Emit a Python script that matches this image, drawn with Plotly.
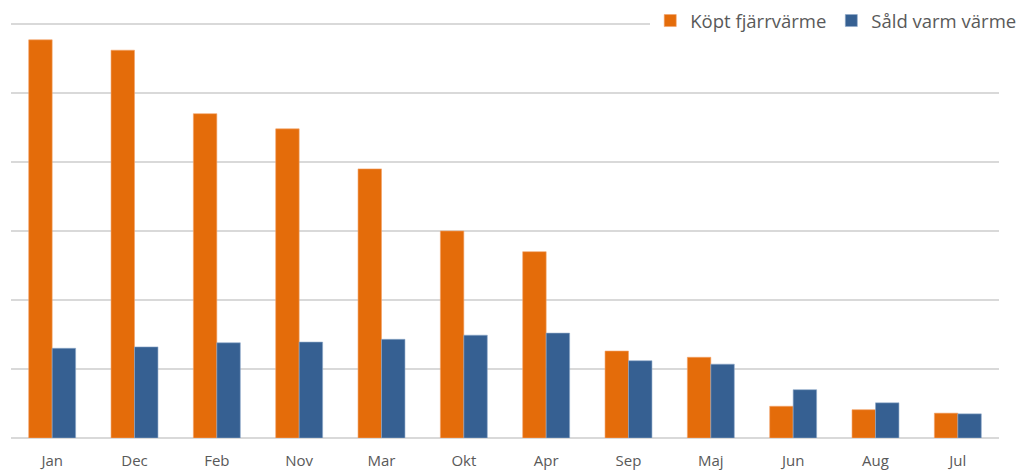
import plotly.graph_objects as go

months = ["Jan", "Dec", "Feb", "Nov", "Mar", "Okt", "Apr", "Sep", "Maj", "Jun", "Aug", "Jul"]
kopt = [5.77, 5.62, 4.70, 4.48, 3.90, 3.00, 2.70, 1.26, 1.17, 0.46, 0.41, 0.36]
sald = [1.30, 1.32, 1.38, 1.39, 1.43, 1.49, 1.52, 1.12, 1.07, 0.70, 0.51, 0.35]
names = ["Köpt fjärrvärme", "Såld varm värme"]

fig = go.Figure()
fig.add_trace(go.Bar(x=months, y=kopt, name=names[0], marker=dict(color="#E46C0A", line=dict(color="#F3A36A", width=0.6))))
fig.add_trace(go.Bar(x=months, y=sald, name=names[1], marker=dict(color="#366092", line=dict(color="#8EA9C9", width=0.6))))

fig.update_layout(
    width=1022, height=472,
    margin=dict(l=11, r=23, t=5, b=34, autoexpand=False),
    paper_bgcolor="white", plot_bgcolor="white",
    barmode="group", bargap=0.43, bargroupgap=0,
    font=dict(family="Open Sans", color="#595959", size=15),
    showlegend=True,
    legend=dict(orientation="h", x=0.647, xanchor="left", y=0.963, yanchor="middle",
                bgcolor="white", font=dict(size=18.5, color="#595959"),
                itemwidth=30, traceorder="normal"),
    xaxis=dict(showgrid=False, showline=False, ticks="outside", ticklen=9, tickcolor="rgba(0,0,0,0)",
               tickfont=dict(size=15, color="#595959")),
    yaxis=dict(range=[0, 6.275], dtick=1, showticklabels=False, showgrid=True, gridcolor="#D9D9D9",
               gridwidth=1.5, zeroline=True, zerolinecolor="#D9D9D9", zerolinewidth=1.5, showline=False),
)
fig.write_html("out.html", config={"displayModeBar": False},
               post_script="document.body.style.margin='0';document.body.style.overflow='hidden';")
